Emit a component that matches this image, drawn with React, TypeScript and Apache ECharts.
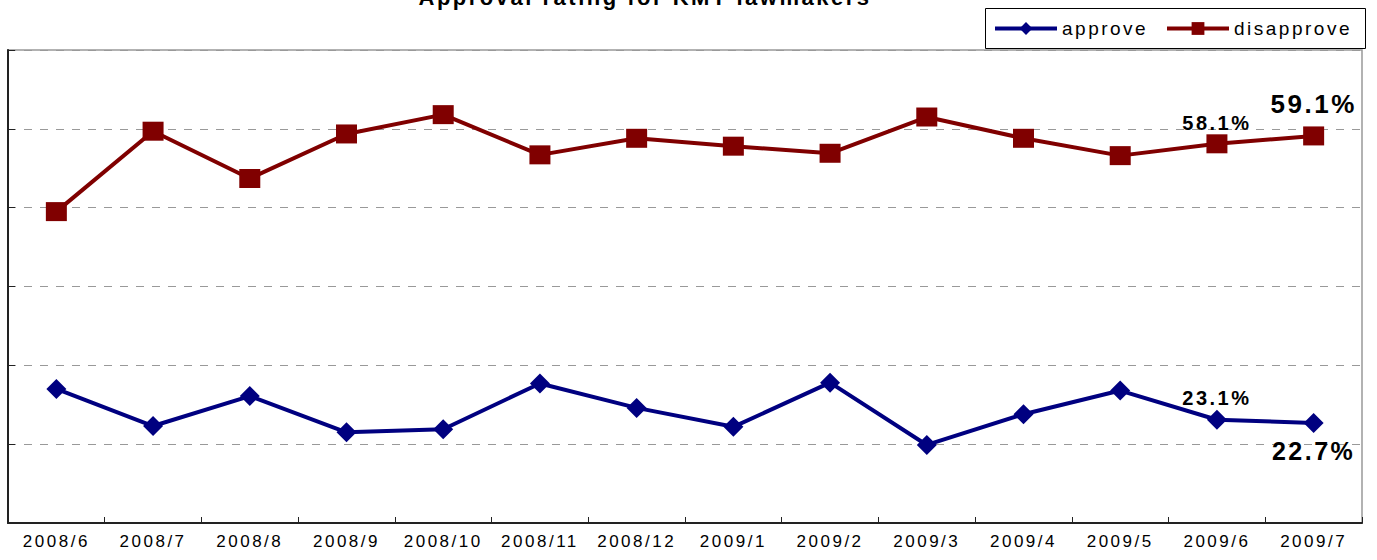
import React, { useEffect, useRef } from "react";
import * as echarts from "echarts";

const categories = [
  "2008/6", "2008/7", "2008/8", "2008/9", "2008/10", "2008/11", "2008/12",
  "2009/1", "2009/2", "2009/3", "2009/4", "2009/5", "2009/6", "2009/7",
];
const approve = [27.0, 22.3, 26.1, 21.5, 21.9, 27.7, 24.6, 22.2, 27.8, 19.9, 23.8, 26.8, 23.1, 22.7];
const disapprove = [49.5, 59.7, 53.7, 59.35, 61.8, 56.7, 58.8, 57.8, 56.9, 61.5, 58.8, 56.6, 58.1, 59.1];
const yMin = 10;
const yMax = 70;
const yInterval = 10;

const FONT = "'Liberation Sans', Arial, Helvetica, sans-serif";

export default function App() {
  const ref = useRef<HTMLDivElement>(null);
  useEffect(() => {
    if (!ref.current) return;
    const chart = echarts.init(ref.current, null, { renderer: "svg" });
    const n = categories.length;
    const lbl = (pos: string, size: number, dist: number) => ({
      show: true,
      position: pos,
      distance: dist,
      fontSize: size,
      fontWeight: "bold",
      color: "#000",
      fontFamily: FONT,
      formatter: (p: any) => p.value.toFixed(1) + "%",
    });
    const approveData = approve.map((v, i) => {
      if (i === n - 2) return { value: v, label: lbl("top", 20, 2) };
      if (i === n - 1) return { value: v, label: lbl("bottom", 25, 6) };
      return { value: v };
    });
    const disapproveData = disapprove.map((v, i) => {
      if (i === n - 2) return { value: v, label: lbl("top", 20, 1) };
      if (i === n - 1) return { value: v, label: lbl("top", 26, 9) };
      return { value: v };
    });
    const legendBase = {
      top: 19,
      padding: 0,
      itemWidth: 62,
      itemHeight: 16,
      z: 10,
      textStyle: { fontSize: 19, color: "#000", fontFamily: FONT },
    };
    chart.setOption({
      animation: false,
      backgroundColor: "#fff",
      textStyle: { fontFamily: FONT },
      grid: {
        left: 8,
        right: 15,
        top: 50,
        bottom: 37,
        show: true,
        borderColor: "#999",
        borderWidth: 1.5,
        containLabel: false,
      },
      graphic: [
        {
          type: "text",
          x: 645,
          y: -3,
          style: {
            text: "Approval rating for KMT lawmakers",
            font: `bold 22px ${FONT}`,
            fill: "#000",
            textAlign: "center",
            textVerticalAlign: "middle",
          },
        },
        {
          type: "rect",
          z: 0,
          shape: { x: 985.5, y: 8.5, width: 380, height: 40 },
          style: { fill: "#fff", stroke: "#000", lineWidth: 1 },
        },
      ],
      legend: [
        {
          ...legendBase,
          data: [{ name: "approve", itemStyle: { color: "#000080" }, lineStyle: { width: 4, color: "#000080" } }],
          left: 993,
        },
        {
          ...legendBase,
          data: [{ name: "disapprove", itemStyle: { color: "#800000" }, lineStyle: { width: 4, color: "#800000" } }],
          left: 1165,
        },
      ],
      xAxis: {
        type: "category",
        data: categories,
        boundaryGap: true,
        axisLine: { show: true, lineStyle: { color: "#222", width: 2 } },
        axisTick: { show: true, inside: true, length: 6, lineStyle: { color: "#222", width: 1 } },
        axisLabel: { fontSize: 17, color: "#000", margin: 10, fontFamily: FONT, interval: 0 },
        splitLine: { show: false },
      },
      yAxis: {
        type: "value",
        min: yMin,
        max: yMax,
        interval: yInterval,
        axisLine: { show: true, lineStyle: { color: "#222", width: 2 } },
        axisTick: { show: true, inside: true, length: 7, lineStyle: { color: "#222", width: 1 } },
        axisLabel: { show: false },
        splitLine: { show: true, lineStyle: { color: "#999", type: [8, 8], width: 1 } },
      },
      series: [
        {
          name: "approve",
          type: "line",
          data: approveData,
          symbol: "diamond",
          symbolSize: [20, 20],
          lineStyle: { color: "#000080", width: 4 },
          itemStyle: { color: "#000080" },
          z: 3,
        },
        {
          name: "disapprove",
          type: "line",
          data: disapproveData,
          symbol: "rect",
          symbolSize: [21, 19],
          lineStyle: { color: "#800000", width: 4 },
          itemStyle: { color: "#800000" },
          z: 3,
        },
      ],
    });
    return () => chart.dispose();
  }, []);
  return (
    <>
      <style>{`.kmt-chart svg text { letter-spacing: 2.5px; }`}</style>
      <div
        ref={ref}
        className="kmt-chart"
        style={{ position: "fixed", left: 0, top: 0, width: 1377, height: 560, background: "#fff" }}
      />
    </>
  );
}
